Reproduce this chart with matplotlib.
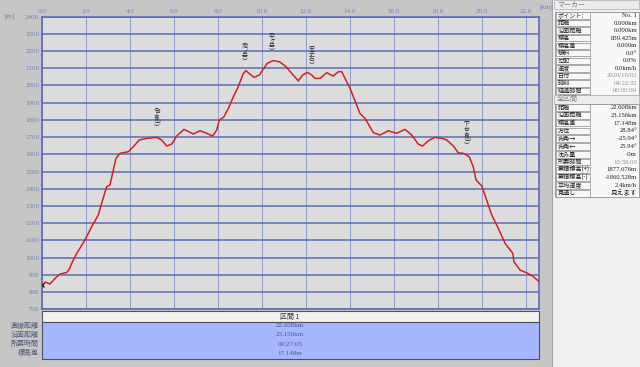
#!/usr/bin/env python3
"""Elevation profile (Kashmir-3D style) -> out.png"""
import numpy as np
import matplotlib
matplotlib.use("Agg")
import matplotlib.pyplot as plt
from matplotlib.patches import Rectangle

plt.rcParams["font.family"] = ["Noto Sans CJK JP", "DejaVu Sans"]
SERIF = ["Liberation Serif", "Noto Sans CJK JP", "DejaVu Sans"]

# profile: distance [km], elevation [m]
km = [0.00, 0.15, 0.36, 0.60, 0.82, 1.12, 1.25, 1.35, 1.58, 1.95, 2.26, 2.56,
      2.71, 2.94, 3.09, 3.21, 3.36, 3.55, 3.92, 4.15, 4.42, 4.76, 5.21, 5.44,
      5.67, 5.90, 6.12, 6.45, 6.88, 7.18, 7.49, 7.76, 7.94, 8.06, 8.27, 8.47,
      8.70, 8.92, 9.15, 9.27, 9.45, 9.64, 9.88, 10.03, 10.24, 10.51, 10.79,
      11.09, 11.35, 11.65, 11.85, 12.06, 12.26, 12.41, 12.64, 12.94, 13.24,
      13.47, 13.62, 13.85, 14.00, 14.15, 14.45, 14.68, 15.06, 15.36, 15.74,
      16.12, 16.50, 16.80, 17.10, 17.30, 17.56, 17.86, 18.17, 18.40, 18.70,
      18.92, 19.15, 19.42, 19.60, 19.73, 19.99, 20.21, 20.44, 20.74, 21.05,
      21.40, 21.45, 21.73, 22.03, 22.30, 22.60]
elev = [840, 858, 847, 880, 905, 913, 935, 967, 1025, 1102, 1180, 1248,
        1315, 1412, 1422, 1490, 1577, 1606, 1615, 1644, 1683, 1693, 1699, 1683,
        1648, 1660, 1706, 1745, 1718, 1737, 1722, 1706, 1741, 1799, 1818, 1867,
        1935, 1993, 2070, 2086, 2066, 2047, 2061, 2090, 2129, 2144, 2138,
        2109, 2070, 2027, 2061, 2076, 2061, 2041, 2041, 2074, 2055,
        2080, 2080, 2022, 1983, 1935, 1838, 1809, 1726, 1712, 1737,
        1722, 1745, 1712, 1660, 1648, 1679, 1699, 1693, 1683, 1648,
        1609, 1606, 1586, 1528, 1451, 1416, 1335, 1248, 1170, 1083,
        1025, 976, 928, 912, 893, 860]

peak_names = ["台倉山", "池ノ岳", "平ヶ岳", "玉子石", "下台倉山"]
peak_km = [5.23, 9.23, 10.45, 12.27, 19.32]

marker_labels = ["ポイント:", "距離", "沿面距離", "標高", "標高差", "傾斜", "勾配",
                 "速度", "日付", "時刻", "経過時間"]
marker_values = ["No. 1", "0.000km", "0.000km", "839.425m", "0.000m", "0.0°",
                 "0.0%", "0.0km/h", "2020/10/02", "04:22:32", "00:00:00"]
total_labels = ["距離", "沿面距離", "標高差", "方位", "俯角→", "俯角←", "沈み量",
                "所要時間", "累積標高(+)", "累積標高(-)", "平均速度", "見通し"]
total_values = ["22.608km", "23.156km", "17.148m", "28.84°", "-25.94°", "25.94°",
                "-0m", "10:38:00", "1877.676m", "-1860.528m", "2.4km/h", "見えます"]

section_name = "区間 1"
section_labels = ["直線距離", "沿面距離", "所要時間", "標高差"]
section_values = ["22.608km", "23.156km", "09:27:05", "17.148m"]

W, H = 640, 367
GRID = "#5d6db6"
TICK = "#7080c0"


def px_box(l, t, r, b):
    return [l / W, 1 - b / H, (r - l) / W, (b - t) / H]


fig = plt.figure(figsize=(6.4, 3.67), dpi=100)
fig.patch.set_facecolor("#c6c6c6")

# overlay in pixel coordinates for panels and tables
ov = fig.add_axes([0, 0, 1, 1])
ov.set_xlim(0, W)
ov.set_ylim(H, 0)
ov.axis("off")

# main chart
ax = fig.add_axes(px_box(42, 16.6, 539, 309.3))
ax.set_facecolor("#dcdcdc")
ax.plot(km, elev, color="#d42020", lw=1.1, zorder=3)
ax.plot(km[0], elev[0], marker="x", color="#303030", ms=3, mew=1, zorder=4)
ax.set_xlim(0, 22.59)
ax.set_ylim(700, 2400)
ax.set_yticks(np.arange(700, 2401, 100))
ax.set_xticks(np.arange(0, 22.1, 2))
ax.xaxis.tick_top()
ax.set_xticklabels([f"{v:.1f}" for v in np.arange(0, 22.1, 2)])
ax.tick_params(length=0, labelsize=5, colors=TICK, pad=2)
for lab in ax.get_xticklabels() + ax.get_yticklabels():
    lab.set_family(SERIF)
ax.grid(axis="y", color=GRID, lw=1.1)
ax.grid(axis="x", color="#8290c8", lw=0.6)
ax.set_axisbelow(True)
for s in ax.spines.values():
    s.set_color(GRID)
    s.set_linewidth(1.2)
ax.text(-0.075, 1.0, "[m]", transform=ax.transAxes, fontsize=5, color=TICK,
        family=SERIF, ha="left", va="center")
ax.text(1.0, 1.032, "[km]", transform=ax.transAxes, fontsize=5, color=TICK,
        family=SERIF, ha="left", va="center")

for name, k in zip(peak_names, peak_km):
    y = np.interp(k, km, elev)
    ax.annotate("︵\n" + "\n".join(name) + "\n︶", xy=(k, y), xytext=(0, 6),
                textcoords="offset points", ha="center", va="bottom",
                fontsize=4.2, linespacing=0.95, color="#303030")

# bottom section table
ov.add_patch(Rectangle((42, 311), 497, 11, fc="#f2f2f2", ec="#505060", lw=0.8))
ov.add_patch(Rectangle((42, 322), 497, 37, fc="#a6b6ff", ec="#505060", lw=0.8))
ov.text(290, 316.5, section_name, ha="center", va="center", fontsize=5, color="#303040")
for i, (lab, val) in enumerate(zip(section_labels, section_values)):
    y = 325.8 + i * 9.1
    ov.text(39, y, lab, ha="right", va="center", fontsize=5, color="#505878")
    ov.text(290, y, val, ha="center", va="center", fontsize=5, color="#4a5a9a",
            family=SERIF)

# right info panel
ov.add_patch(Rectangle((552, 0), 88, H, fc="#f0f0f0", ec="none"))
ov.plot([552, 552], [0, H], color="#a8a8a8", lw=0.8)


def panel_table(title, ytitle, labels, values, y0, step, grey=()):
    ov.add_patch(Rectangle((554, ytitle - 4.5), 85, 9, fc="#ececec", ec="#b8b8b8", lw=0.6))
    ov.text(557, ytitle, title, ha="left", va="center", fontsize=5, color="#808080")
    top = y0 - step / 2
    ov.add_patch(Rectangle((555, top), 84, step * len(labels), fc="#f8f8f8",
                           ec="#909090", lw=0.6))
    for i, (lab, val) in enumerate(zip(labels, values)):
        y = y0 + i * step
        ov.add_patch(Rectangle((556, y - step / 2 + 0.6), 34, step - 1.2,
                               fc="#f8f8f8", ec="#8a8a8a", lw=0.5))
        ov.text(557.5, y, lab, ha="left", va="center", fontsize=4.4, color="#202020")
        ov.text(637, y, val, ha="right", va="center", fontsize=4.8,
                color="#909090" if i in grey else "#202020", family=SERIF)


panel_table("マーカー", 4.5, marker_labels, marker_values, 15.5, 7.55, grey=(8, 9, 10))
panel_table("全区間", 99.5, total_labels, total_values, 107.5, 7.8, grey=(7,))

fig.savefig("out.png", dpi=100, facecolor=fig.get_facecolor())
